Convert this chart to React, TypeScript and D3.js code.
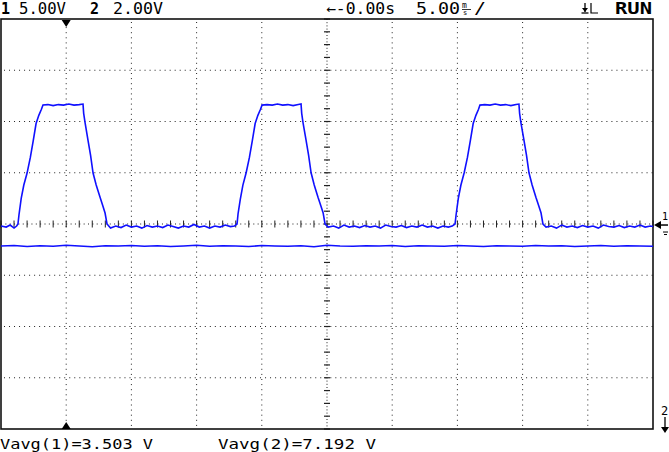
import React from "react";
import * as d3 from "d3";

// ---- Scope settings / labels ----
const headerLabels = ["5.00V", "2.00V", "←-0.00s", "5.00", "/", "RUN"];
const footerLabels = ["Vavg(1)=3.503 V", "Vavg(2)=7.192 V"];

// time axis in ms (5 ms/div, 10 div), divisions vertical 8
const timeDomain: [number, number] = [-25, 25];
const timeGrid = [-20, -15, -10, -5, 0, 5, 10, 15, 20];
const divGrid = [-3, -2, -1, 0, 1, 2, 3];

// channel 1 (5 V/div) samples [ms, V]
const ch1: [number, number][] = [
  [-25, -0.1], [-24.6, -0.2], [-24.3, 0.0], [-24.0, -0.3], [-23.8, -0.1],
  [-23.70, 0.1], [-23.62, 1.0], [-23.45, 2.6], [-23.25, 3.9], [-23.0, 5.07], [-22.75, 6.6], [-22.53, 8.2], [-22.31, 9.9], [-22.1, 10.7], [-21.9, 11.3], [-21.78, 11.71],
  [-21.4, 11.75], [-21.0, 11.65], [-20.6, 11.75], [-20.2, 11.7], [-19.8, 11.8], [-19.4, 11.7], [-19.0, 11.75], [-18.71, 11.8],
  [-18.66, 10.9], [-18.56, 10.05], [-18.33, 8.29], [-18.13, 6.8], [-17.94, 5.07], [-17.7, 3.9], [-17.41, 2.73], [-17.2, 1.9], [-17.02, 1.17], [-16.87, 0.1],
  [-16.6, -0.3], [-16.2, -0.1], [-15.8, -0.25], [-15.4, 0.0], [-15.0, -0.2], [-14.6, -0.1], [-14.2, -0.3], [-13.8, -0.05], [-13.4, -0.2], [-13.0, -0.1], [-12.6, -0.25], [-12.2, 0.0], [-11.8, -0.15], [-11.4, -0.3], [-11.0, -0.1], [-10.6, -0.2], [-10.2, 0.05], [-9.8, -0.2], [-9.4, -0.1], [-9.0, -0.3], [-8.6, -0.1], [-8.2, -0.2], [-7.8, 0.0], [-7.4, -0.15], [-7.1, -0.1],
  [-6.90, 0.1], [-6.82, 1.1], [-6.65, 2.5], [-6.45, 3.9], [-6.2, 5.1], [-5.95, 6.6], [-5.73, 8.2], [-5.51, 9.9], [-5.3, 10.7], [-5.1, 11.3], [-4.98, 11.7],
  [-4.6, 11.75], [-4.2, 11.7], [-3.8, 11.8], [-3.4, 11.7], [-3.0, 11.75], [-2.6, 11.65], [-2.2, 11.75], [-1.99, 11.8],
  [-1.94, 10.9], [-1.84, 10.0], [-1.61, 8.3], [-1.41, 6.8], [-1.22, 5.1], [-0.98, 3.9], [-0.69, 2.7], [-0.48, 1.9], [-0.30, 1.2], [-0.15, 0.1],
  [0.1, -0.2], [0.5, -0.1], [0.9, -0.3], [1.3, 0.0], [1.7, -0.2], [2.1, -0.1], [2.5, -0.25], [2.9, -0.05], [3.3, -0.2], [3.7, -0.1], [4.1, -0.3], [4.5, 0.0], [4.9, -0.15], [5.3, -0.2], [5.7, -0.05], [6.1, -0.25], [6.5, -0.1], [6.9, -0.2], [7.3, 0.0], [7.7, -0.2], [8.1, -0.1], [8.5, -0.3], [8.9, -0.1], [9.3, -0.2], [9.6, -0.1],
  [9.82, 0.1], [9.9, 1.0], [10.07, 2.6], [10.27, 3.9], [10.52, 5.1], [10.77, 6.6], [10.99, 8.2], [11.21, 9.9], [11.42, 10.7], [11.62, 11.3], [11.73, 11.7],
  [12.1, 11.75], [12.5, 11.7], [12.9, 11.8], [13.3, 11.7], [13.7, 11.75], [14.1, 11.65], [14.5, 11.75], [14.72, 11.8],
  [14.77, 10.9], [14.87, 10.0], [15.10, 8.3], [15.30, 6.8], [15.49, 5.1], [15.73, 3.9], [16.02, 2.7], [16.23, 1.9], [16.41, 1.2], [16.56, 0.1],
  [16.8, -0.2], [17.2, -0.1], [17.6, -0.3], [18.0, 0.0], [18.4, -0.2], [18.8, -0.1], [19.2, -0.25], [19.6, -0.05], [20.0, -0.2], [20.4, -0.1], [20.8, -0.3], [21.2, 0.0], [21.6, -0.15], [22.0, -0.2], [22.4, -0.05], [22.8, -0.25], [23.2, -0.1], [23.6, -0.2], [24.0, 0.0], [24.4, -0.2], [24.8, -0.1], [25.0, -0.15],
];

// channel 2 (2 V/div) samples [ms, V]
const ch2: [number, number][] = [
  [-25, 7.19], [-24, 7.21], [-23, 7.17], [-22, 7.2], [-21, 7.18], [-20, 7.22], [-19, 7.19], [-18, 7.16], [-17, 7.2], [-16, 7.19],
  [-15, 7.21], [-14, 7.18], [-13, 7.2], [-12, 7.17], [-11, 7.19], [-10, 7.22], [-9, 7.18], [-8, 7.2], [-7, 7.19], [-6, 7.17],
  [-5, 7.21], [-4, 7.19], [-3, 7.18], [-2, 7.2], [-1, 7.16], [0, 7.22], [1, 7.19], [2, 7.18], [3, 7.2], [4, 7.19],
  [5, 7.21], [6, 7.17], [7, 7.2], [8, 7.19], [9, 7.18], [10, 7.21], [11, 7.19], [12, 7.17], [13, 7.2], [14, 7.19],
  [15, 7.18], [16, 7.21], [17, 7.19], [18, 7.2], [19, 7.17], [20, 7.19], [21, 7.21], [22, 7.18], [23, 7.2], [24, 7.19], [25, 7.18],
];

const W = 669;
const H = 452;
const L = 1, R = 653, T = 19, B = 429;
const TRACE = "#1010ff";
const FONT = "'DejaVu Sans Mono', monospace";

export default function App() {
  const x = d3.scaleLinear().domain(timeDomain).range([L, R]);
  const yDiv = d3.scaleLinear().domain([-4, 4]).range([B, T]);
  const y1 = d3.scaleLinear().domain([-19.9, 20.1]).range([B, T]);
  const y2 = d3.scaleLinear().domain([0.05, 16.05]).range([B, T]);
  const line1 = d3.line<[number, number]>().x((d) => x(d[0])).y((d) => y1(d[1]));
  const line2 = d3.line<[number, number]>().x((d) => x(d[0])).y((d) => y2(d[1]));
  const cx = x(0);
  const cy = yDiv(0);
  const hTicks = d3.range(-25, 25.01, 1);
  const vTicks = d3.range(-4, 4.01, 0.25);
  const trigX = x(-20);

  return (
    <svg width={W} height={H} style={{ position: "absolute", left: 0, top: 0, background: "#fff" }}>
      <rect x={0} y={0} width={W} height={H} fill="#fff" />
      {/* dotted graticule */}
      {timeGrid.filter((t) => t !== 0).map((t) => (
        <line key={"v" + t} x1={x(t)} x2={x(t)} y1={T + 3} y2={B} stroke="#222" strokeWidth={1} strokeDasharray="1 4.1" />
      ))}
      {divGrid.filter((d) => d !== 0).map((d) => (
        <line key={"h" + d} x1={L + 3} x2={R} y1={yDiv(d)} y2={yDiv(d)} stroke="#222" strokeWidth={1} strokeDasharray="1 4.02" />
      ))}
      {/* center axes */}
      <line x1={L} x2={R} y1={cy} y2={cy} stroke="#222" strokeWidth={1} strokeDasharray="1 3.35" />
      <line x1={cx} x2={cx} y1={T} y2={B} stroke="#222" strokeWidth={1} strokeDasharray="1 2.2" />
      {hTicks.map((t) => (
        <line key={"ht" + t} x1={x(t)} x2={x(t)} y1={cy - 3.5} y2={cy + 3.5} stroke="#222" strokeWidth={1} />
      ))}
      {vTicks.map((d) => (
        <line key={"vt" + d} x1={cx - 3} x2={cx + 3} y1={yDiv(d)} y2={yDiv(d)} stroke="#222" strokeWidth={1.2} />
      ))}
      {/* frame */}
      <rect x={L} y={T} width={R - L} height={B - T} fill="none" stroke="#111" strokeWidth={1.6} />
      {/* traces */}
      <path d={line2(ch2) || ""} fill="none" stroke={TRACE} strokeWidth={1.6} />
      <path d={line1(ch1) || ""} fill="none" stroke={TRACE} strokeWidth={1.6} />
      {/* trigger markers */}
      <path d={`M${trigX - 4.5},${T + 1} L${trigX + 4.5},${T + 1} L${trigX},${T + 8} Z`} fill="#000" />
      <path d={`M${trigX - 4.5},${B} L${trigX + 4.5},${B} L${trigX},${B - 7} Z`} fill="#000" />
      {/* ch1 ground marker */}
      <text x={662} y={220} fontFamily={FONT} fontSize={10} fill="#000">1</text>
      <path d={`M${R + 1},${y1(0)} L${R + 8},${y1(0) - 4} L${R + 8},${y1(0) + 4} Z`} fill="#000" />
      <line x1={R + 8} x2={668} y1={y1(0)} y2={y1(0)} stroke="#000" strokeWidth={1.5} />
      <line x1={663} x2={668} y1={y1(0) + 7} y2={y1(0) + 7} stroke="#000" strokeWidth={1} />
      <line x1={664} x2={667} y1={y1(0) + 9.5} y2={y1(0) + 9.5} stroke="#000" strokeWidth={1} />
      {/* ch2 ground marker (off-screen below) */}
      <text x={661} y={415} fontFamily={FONT} fontSize={12} fill="#000">2</text>
      <line x1={665} x2={665} y1={417} y2={428} stroke="#000" strokeWidth={1.3} />
      <path d={`M661,427 L669,427 L665,433 Z`} fill="#000" />
      {/* header */}
      <g fontFamily={FONT} fontSize={15} fill="#000">
        <text x={1} y={14} fontWeight="bold">1</text>
        <text x={19} y={14} textLength={47} lengthAdjust="spacingAndGlyphs">{headerLabels[0]}</text>
        <text x={90} y={14} fontWeight="bold">2</text>
        <text x={113} y={14} textLength={50} lengthAdjust="spacingAndGlyphs">{headerLabels[1]}</text>
        <text x={326} y={14} textLength={69} lengthAdjust="spacingAndGlyphs">{headerLabels[2]}</text>
        <text x={416} y={14} textLength={44} lengthAdjust="spacingAndGlyphs">{headerLabels[3]}</text>
        <text x={462} y={8} fontSize={8}>m</text>
        <line x1={462} x2={471} y1={9.5} y2={9.5} stroke="#000" strokeWidth={0.8} />
        <text x={463} y={15} fontSize={7}>s</text>
        <text x={474} y={14} textLength={12} lengthAdjust="spacingAndGlyphs">{headerLabels[4]}</text>
        <text x={615} y={14} fontWeight="bold" textLength={37} lengthAdjust="spacingAndGlyphs">{headerLabels[5]}</text>
      </g>
      {/* trigger slope symbol */}
      <line x1={585} x2={585} y1={3} y2={12} stroke="#000" strokeWidth={1.3} />
      <path d="M582,8 L588,8 L585,12 Z" fill="#000" />
      <line x1={581.5} x2={588.5} y1={13} y2={13} stroke="#000" strokeWidth={1.3} />
      <path d="M591,3 L591,13 L598,13" fill="none" stroke="#000" strokeWidth={1.2} />
      {/* footer */}
      <g fontFamily={FONT} fontSize={14} fill="#000">
        <text x={0} y={449} textLength={153} lengthAdjust="spacingAndGlyphs">{footerLabels[0]}</text>
        <text x={218} y={449} textLength={158} lengthAdjust="spacingAndGlyphs">{footerLabels[1]}</text>
      </g>
    </svg>
  );
}
